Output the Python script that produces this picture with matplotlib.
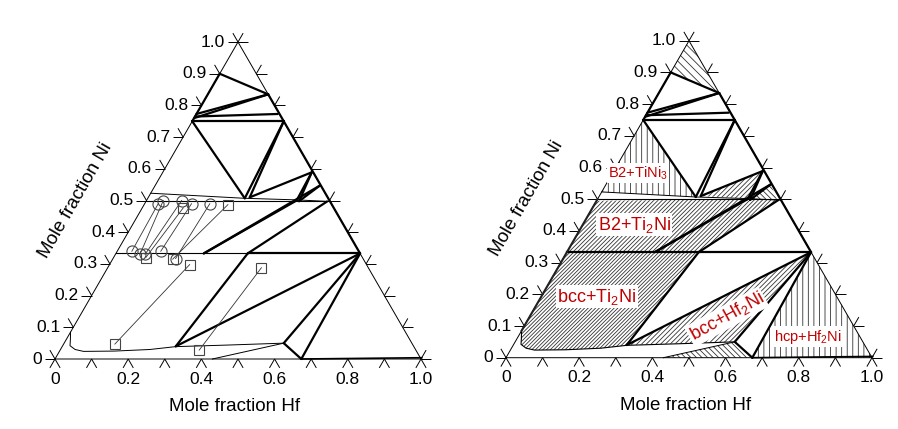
import numpy as np
import matplotlib.pyplot as plt
from matplotlib.patches import Polygon
from matplotlib.collections import LineCollection

plt.rcParams['font.family'] = ['Liberation Sans', 'DejaVu Sans']
plt.rcParams['mathtext.default'] = 'regular'
plt.rcParams['hatch.linewidth'] = 0.6

R3 = np.sqrt(3) / 2

# phase boundaries, (x_Hf, x_Ni) end points
thick_lines = [
    [(0, 0.900), (0.165, 0.835)],
    [(0, 0.900), (0, 0.750)],
    [(0, 0.773), (0.165, 0.835)],
    [(0, 0.760), (0.165, 0.835)],
    [(0, 0.765), (0.222, 0.773)],
    [(0, 0.750), (0.250, 0.750)],
    [(0.165, 0.835), (0.667, 0.333)],
    [(0, 0.750), (0.265, 0.507)],
    [(0.250, 0.750), (0.265, 0.507)],
    [(0.250, 0.750), (0.277, 0.510)],
    [(0.277, 0.510), (0.407, 0.589)],
    [(0.407, 0.589), (0.410, 0.500)],
    [(0.407, 0.589), (0.418, 0.498)],
    [(0.450, 0.547), (0.418, 0.498)],
    [(0.240, 0.333), (0.410, 0.500)],
    [(0.240, 0.333), (0.450, 0.547)],
    [(0.360, 0.333), (0.495, 0.497)],
    [(0.360, 0.333), (0.667, 0.333)],
    [(0.360, 0.333), (0.310, 0.040)],
    [(0.310, 0.040), (0.667, 0.333)],
    [(0.667, 0.333), (0.600, 0.050)],
    [(0.667, 0.333), (0.673, 0.000)],
    [(0.600, 0.050), (0.673, 0.000)],
]
hcp_line = [(0.673, 0.0), (1.0, 0.004)]
# left edge where tie-line fans converge in the calculated section
edge_dark = [(0, 0.085), (0, 0.500)]

# thin boundaries
b2_low_hf = [0.0, 0.50]
b2_low_ni = [0.500, 0.500]
b2_up_hf = [0.0, 0.265, 0.41, 0.50]
b2_up_ni = [0.523, 0.507, 0.502, 0.497]
t2_hf = [0.0, 0.36]
t2_ni = [0.333, 0.333]
bcc_hf = [0.0, 0.012, 0.020, 0.040, 0.066, 0.15, 0.244, 0.31, 0.45, 0.60]
bcc_ni = [0.085, 0.060, 0.042, 0.030, 0.024, 0.025, 0.030, 0.039, 0.044, 0.050]
hcp_hf = [0.43, 0.60]
hcp_ni = [0.0, 0.05]

# measured tie-lines (left diagram)
circ_hf = [0.037, 0.046, 0.096, 0.128, 0.178, 0.040, 0.067, 0.081, 0.119, 0.171]
circ_ni = [0.490, 0.500, 0.500, 0.490, 0.490, 0.340, 0.330, 0.330, 0.340, 0.317]
sq_hf = [0.112, 0.229, 0.088, 0.164, 0.219, 0.420, 0.140, 0.380]
sq_ni = [0.477, 0.487, 0.320, 0.315, 0.298, 0.288, 0.047, 0.028]
tie_a_hf = [0.037, 0.046, 0.096, 0.112, 0.128, 0.178, 0.229, 0.219, 0.420]
tie_a_ni = [0.490, 0.500, 0.500, 0.477, 0.490, 0.490, 0.487, 0.298, 0.288]
tie_b_hf = [0.040, 0.067, 0.081, 0.088, 0.119, 0.171, 0.164, 0.140, 0.380]
tie_b_ni = [0.340, 0.330, 0.330, 0.320, 0.340, 0.317, 0.315, 0.047, 0.028]

# two-phase regions of the calculated diagram (right), with hatch
regions = [
    ([(0, 0.90), (0, 1.0), (0.165, 0.835)], '\\' * 4),
    ([(0, 0.75), (0, 0.523), (0.265, 0.507)], '|' * 3),
    ([(0.277, 0.510), (0.407, 0.589), (0.410, 0.502)], '/' * 7),
    ([(0.450, 0.547), (0.418, 0.498), (0.490, 0.500)], '\\' * 6),
    ([(0, 0.333), (0, 0.495), (0.410, 0.500), (0.240, 0.333)], '/' * 8),
    ([(0.240, 0.333), (0.418, 0.499), (0.495, 0.497), (0.360, 0.333)], '/' * 8),
    ([(0.310, 0.040), (0.667, 0.333), (0.600, 0.050)], '/' * 7),
    ([(0.667, 0.333), (0.673, 0.0), (1.0, 0.0)], '|' * 3),
    ([(0.43, 0.0), (0.60, 0.05), (0.673, 0.0)], '\\' * 6),
]
bcc_region = ([(0, 0.333), (0.36, 0.333)] + list(zip(bcc_hf[:8][::-1], bcc_ni[:8][::-1])), '/' * 9)

labels = ['B2+TiNi$_3$', 'B2+Ti$_2$Ni', 'bcc+Ti$_2$Ni', 'bcc+Hf$_2$Ni', 'hcp+Hf$_2$Ni']
label_xy = [(0.361, 0.505), (0.350, 0.363), (0.248, 0.167), (0.603, 0.112), (0.826, 0.057)]
label_size = [10.5, 13, 13, 13, 10.5]
label_rot = [0, 0, 0, 29, 0]

ticks = np.round(np.arange(0, 1.01, 0.1), 1)
tick_text = ['0', '0.1', '0.2', '0.3', '0.4', '0.5', '0.6', '0.7', '0.8', '0.9', '1.0']
hf_ticks = [0, 0.2, 0.4, 0.6, 0.8, 1.0]
hf_text = ['0', '0.2', '0.4', '0.6', '0.8', '1.0']


def tern(hf, ni):
    hf = np.asarray(hf, float)
    ni = np.asarray(ni, float)
    return hf + ni / 2, ni * R3


def pts(seq):
    hf, ni = zip(*seq)
    x, y = tern(hf, ni)
    return np.column_stack([x, y])


fig = plt.figure(figsize=(8.98, 4.29), dpi=100)
S = 366.0


def make_ax(x0, y0):
    a, b, c, d = -0.14, 1.06, -0.19, 0.93
    ax = fig.add_axes([(x0 + a * S) / 898, (429 - y0 + c * S) / 429,
                       (b - a) * S / 898, (d - c) * S / 429])
    ax.set_xlim(a, b)
    ax.set_ylim(c, d)
    ax.axis('off')
    ax.patch.set_alpha(0)
    return ax


def frame(ax):
    ax.plot(*tern([0, 1, 0, 0], [0, 0, 1, 0]), color='k', lw=0.7, zorder=3)
    L = 0.028
    segs = []
    for v in ticks:
        x, y = tern(0, v)
        segs += [[(x, y), (x - L, y)], [(x, y), (x - L / 2, y + L * R3)]]
        x, y = tern(v, 0)
        segs += [[(x, y), (x - L / 2, y - L * R3)], [(x, y), (x + L / 2, y - L * R3)]]
        x, y = tern(1 - v, v)
        segs += [[(x, y), (x + L, y)], [(x, y), (x + L / 2, y + L * R3)]]
    ax.add_collection(LineCollection(segs, colors='k', lw=0.7, zorder=3))
    for v, t in zip(ticks, tick_text):
        x, y = tern(0, v)
        ax.text(x - 0.035, y, t, ha='right', va='center', fontsize=12.5)
    for v, t in zip(hf_ticks, hf_text):
        x, y = tern(v, 0)
        ax.text(x, y - 0.055, t, ha='center', va='center', fontsize=12.5)
    ax.text(0.055, 0.434, 'Mole fraction Ni', rotation=60, ha='center', va='center', fontsize=13.5)
    ax.text(0.49, -0.13, 'Mole fraction Hf', ha='center', va='center', fontsize=13.5)


def boundaries(ax, calc):
    ax.add_collection(LineCollection([pts(s) for s in thick_lines], colors='k', lw=1.6,
                                     zorder=4, capstyle='round'))
    ax.plot(*pts(hcp_line).T, color='k', lw=1.2, zorder=4)
    ax.plot(*tern(b2_low_hf, b2_low_ni), color='k', lw=0.8, zorder=4)
    ax.plot(*tern(b2_up_hf, b2_up_ni), color='k', lw=0.7, zorder=4)
    ax.plot(*tern(t2_hf, t2_ni), color='k', lw=1.6 if calc else 0.8, zorder=4)
    ax.plot(*tern(bcc_hf, bcc_ni), color='k', lw=0.8 if calc else 0.7, zorder=4)
    ax.plot(*tern(hcp_hf, hcp_ni), color='k', lw=0.7, zorder=4)
    if calc:
        ax.plot(*pts(edge_dark).T, color='#222222', lw=1.5, zorder=4)


# left: experimental tie-lines
ax1 = make_ax(55, 359)
frame(ax1)
boundaries(ax1, False)
for h1, n1, h2, n2 in zip(tie_a_hf, tie_a_ni, tie_b_hf, tie_b_ni):
    ax1.plot(*tern([h1, h2], [n1, n2]), color='#333333', lw=0.6, zorder=5)
ax1.plot(*tern(circ_hf, circ_ni), 'o', ms=8, mfc='none', mec='#444444', mew=0.8, zorder=6)
ax1.plot(*tern(sq_hf, sq_ni), 's', ms=7, mfc='none', mec='#444444', mew=0.8, zorder=6)

# right: calculated section
ax2 = make_ax(506, 357.7)
for poly, h in regions + [bcc_region]:
    ax2.add_patch(Polygon(pts(poly), closed=True, fill=False, hatch=h,
                          edgecolor='#333333', lw=0, zorder=2))
frame(ax2)
boundaries(ax2, True)
for t, (x, y), fs, r in zip(labels, label_xy, label_size, label_rot):
    ax2.text(x, y, t, color='#c00000', fontsize=fs, rotation=r, ha='center', va='center',
             zorder=7, bbox=dict(facecolor='white', edgecolor='none', pad=1.0))

fig.savefig('out.png', dpi=100)
